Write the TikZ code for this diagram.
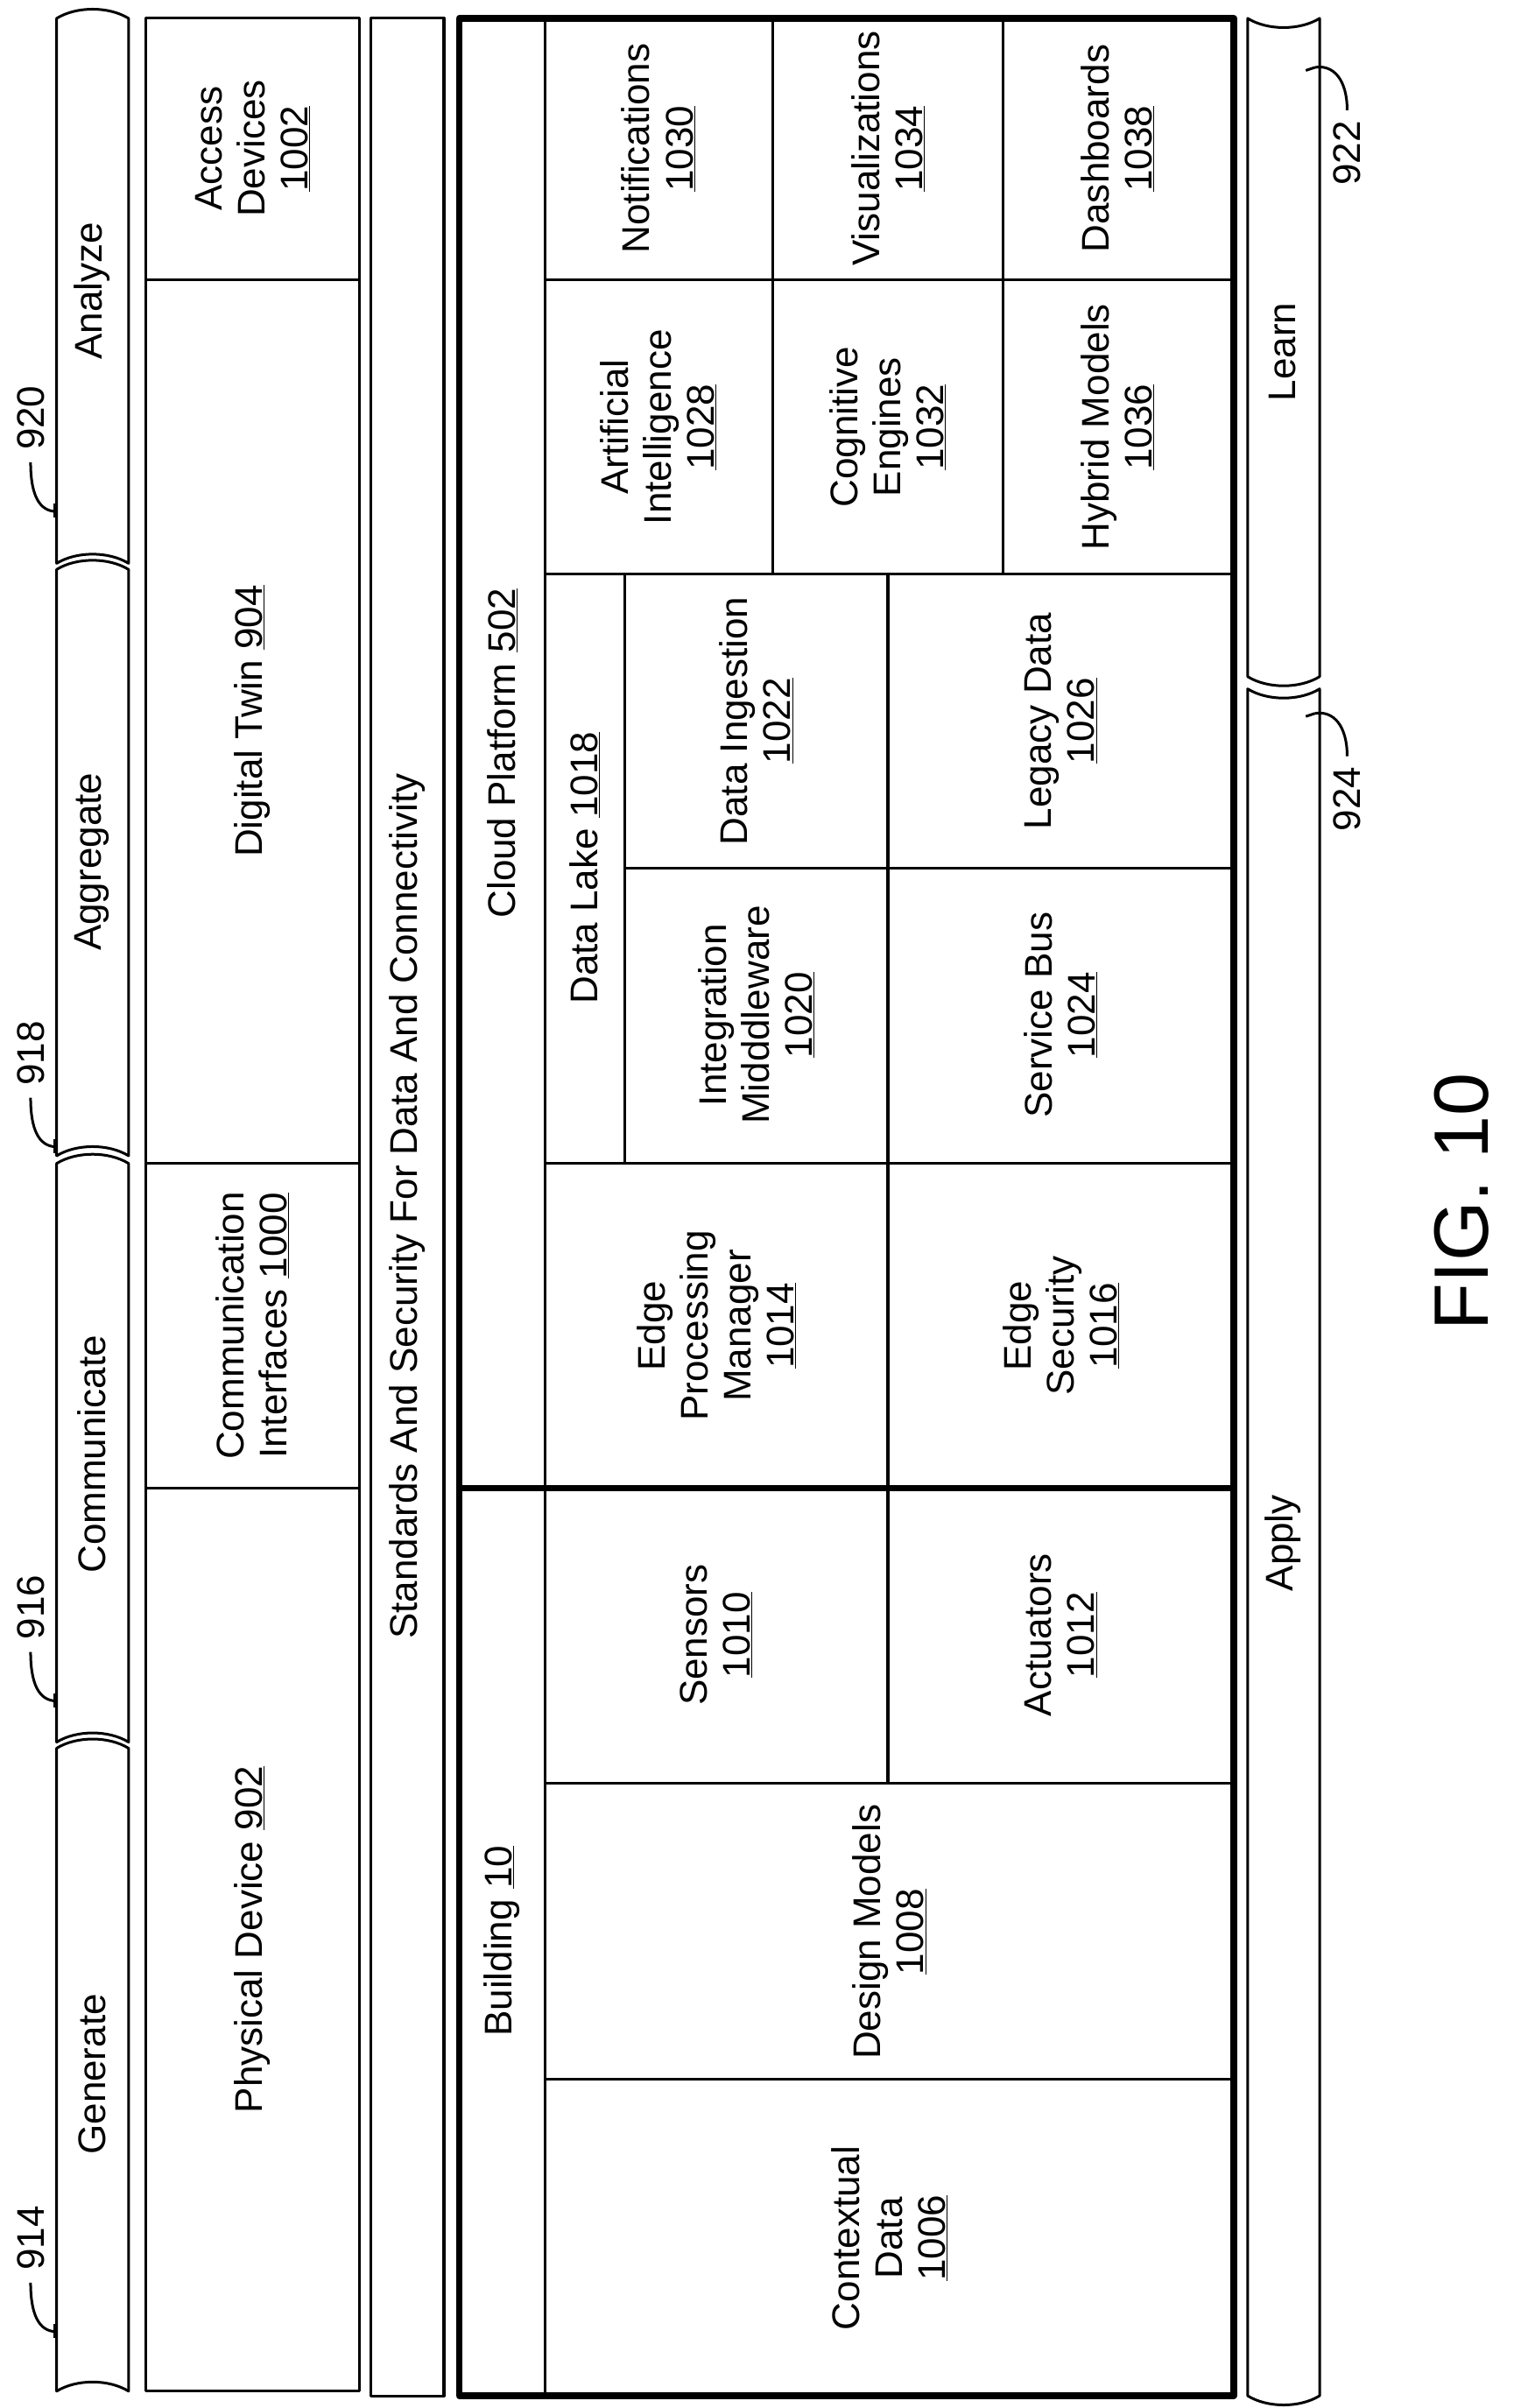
\documentclass[tikz,border=0pt]{standalone}
\usepackage{fontspec}
\setmainfont{Liberation Sans}
\begin{document}
\begin{tikzpicture}[x=1.7475pt,y=-1.7475pt,line join=round,
  thin line/.style={line width=3pt},
  thick line/.style={line width=7.5pt},
  lbl/.style={rotate=90,align=center,font=\fontsize{44}{49}\selectfont,inner sep=0pt},
  ref/.style={rotate=90,font=\fontsize{44}{49}\selectfont,inner sep=0pt}]
\useasboundingbox (0,0) rectangle (993,1573);
\newcommand\ribbonL[3]{\draw[thin line] (#1,#2) .. controls (#1+13,#2-8) and (#1+34,#2-8) .. (#1+47,#2) -- (#1+47,#3) .. controls (#1+34,#3-8) and (#1+13,#3-8) .. (#1,#3) -- cycle;}
\newcommand\ribbonR[3]{\draw[thin line] (#1,#2) .. controls (#1+13,#2+8) and (#1+34,#2+8) .. (#1+47,#2) -- (#1+47,#3) .. controls (#1+34,#3+8) and (#1+13,#3+8) .. (#1,#3) -- cycle;}
% left ribbons
\ribbonL{37}{12}{368}
\ribbonL{37}{372}{755}
\ribbonL{37}{760}{1138}
\ribbonL{37}{1142}{1562}
\node[lbl] (an) at (60,190) {Analyze};
\node[lbl] (ag) at (60,563) {Aggregate};
\node[lbl] (co) at (60,950) {Communicate};
\node[lbl] (ge) at (60,1355) {Generate};
% ref labels left
\node[ref] (r914) at (20,1462) {914};
\node[ref] (r916) at (20,1050) {916};
\node[ref] (r918) at (20,688) {918};
\node[ref] (r920) at (20,273) {920};
\foreach \n in {914,916,918,920}{
  \draw[thin line] ([yshift=-14pt]r\n.west) .. controls +(0,20) and +(-12,0) .. ++(17,32) coordinate (h\n);
  \draw[thin line] (h\n) ++(-1,-5) -- ++(0,9);
}
% physical column
\draw[thin line] (95,12) rectangle (235,1562);
\draw[thin line] (95,183) -- (235,183) (95,760) -- (235,760) (95,972) -- (235,972);
\node[lbl] (ad) at (165,97) {Access\\Devices\\\underline{1002}};
\node[lbl] (dt) at (165,471) {Digital Twin \underline{904}};
\node[lbl] (ci) at (165,866) {Communication\\Interfaces \underline{1000}};
\node[lbl] (pd) at (165,1267) {Physical Device \underline{902}};
% standards
\draw[thin line] (242,12) rectangle (290,1565);
\node[lbl] (st) at (266,788) {Standards And Security For Data And Connectivity};
% main box
\draw[thin line] (356,12) -- (356,1565);
\draw[thin line] (356,1358) -- (806,1358) (356,1165) -- (806,1165) (580,972) -- (580,1165);
\draw[thin line] (356,760) -- (806,760) (580,375) -- (580,972) (408,375) -- (408,760)
  (356,375) -- (806,375) (408,567) -- (806,567)
  (356,183) -- (806,183) (505,12) -- (505,375) (655,12) -- (655,375);
\draw[thick line] (300,12) rectangle (806,1565);
\draw[thick line] (300,972) -- (806,972);
\node[lbl] (cp) at (328,492) {Cloud Platform \underline{502}};
\node[lbl] (bd) at (328,1268) {Building \underline{10}};
\node[lbl] (cd) at (581,1462) {Contextual\\Data\\\underline{1006}};
\node[lbl] (dm) at (581,1262) {Design Models\\\underline{1008}};
\node[lbl] (se) at (468,1068) {Sensors\\\underline{1010}};
\node[lbl] (ac) at (693,1068) {Actuators\\\underline{1012}};
\node[lbl] (ep) at (468,866) {Edge\\Processing\\Manager\\\underline{1014}};
\node[lbl] (es) at (693,866) {Edge\\Security\\\underline{1016}};
\node[lbl] (dl) at (382,567) {Data Lake \underline{1018}};
\node[lbl] (im) at (494,663) {Integration\\Midddleware\\\underline{1020}};
\node[lbl] (di) at (494,471) {Data Ingestion\\\underline{1022}};
\node[lbl] (sb) at (693,663) {Service Bus\\\underline{1024}};
\node[lbl] (ld) at (693,471) {Legacy Data\\\underline{1026}};
\node[lbl] (ai) at (430,279) {Artificial\\Intelligence\\\underline{1028}};
\node[lbl] (no) at (430,97) {Notifications\\\underline{1030}};
\node[lbl] (ce) at (580,279) {Cognitive\\Engines\\\underline{1032}};
\node[lbl] (vi) at (580,97) {Visualizations\\\underline{1034}};
\node[lbl] (hm) at (730,279) {Hybrid Models\\\underline{1036}};
\node[lbl] (db) at (730,97) {Dashboards\\\underline{1038}};
% right ribbons
\ribbonR{815}{12}{442}
\ribbonR{815}{450}{1565}
\node[lbl] (le) at (838,230) {Learn};
\node[lbl] (ap) at (838,1008) {Apply};
\node[ref] (r922) at (880,100) {922};
\node[ref] (r924) at (880,522) {924};
\foreach \n in {922,924}{
  \draw[thin line] ([yshift=12pt]r\n.east) .. controls +(0,-20) and +(12,-2) .. ++(-21,-28) coordinate (k\n);
  \draw[thin line] (k\n) -- ++(-6,2);
}
\node[rotate=90,font=\fontsize{88}{94}\selectfont,inner sep=0pt] (fig) at (955,785) {FIG. 10};
\end{tikzpicture}
\end{document}
